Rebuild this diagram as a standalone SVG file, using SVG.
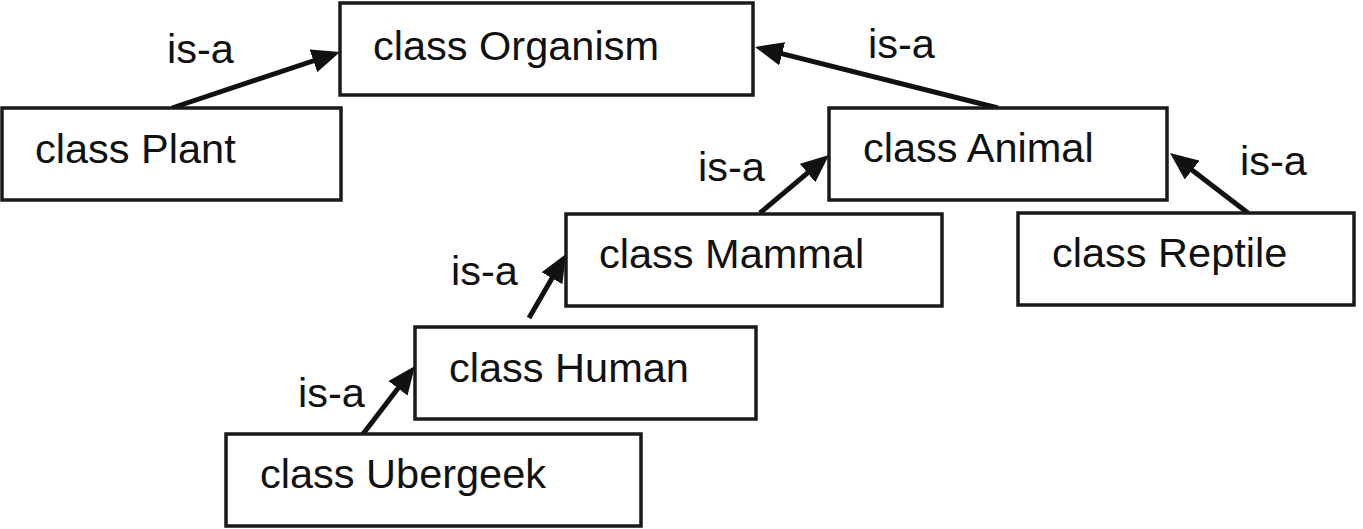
<svg xmlns="http://www.w3.org/2000/svg" width="1363" height="529" viewBox="0 0 1363 529">
<style>
.box{fill:#fff;stroke:#1a1a1a;stroke-width:3.5}
.t{font-family:"Liberation Sans",Arial,sans-serif;font-size:41.5px;fill:#111}
.c{stroke:#111;stroke-width:5;fill:none;marker-end:url(#ah)}
</style>
<defs>
<marker id="ah" markerUnits="userSpaceOnUse" markerWidth="28" markerHeight="24" viewBox="0 0 28 24" refX="20" refY="12" orient="auto">
<path d="M0,0 L28,12 L0,24 z" fill="#111"/>
</marker>
</defs>
<rect width="1363" height="529" fill="#fff"/>
<g id="connectors">
<line class="c" x1="172" y1="108" x2="332.4" y2="54.5"/>
<line class="c" x1="998" y1="108" x2="762.8" y2="48.9"/>
<line class="c" x1="760" y1="213" x2="822.9" y2="160.2"/>
<line class="c" x1="1248" y1="213" x2="1176.3" y2="157.9"/>
<line class="c" x1="529" y1="318" x2="562" y2="260.9"/>
<line class="c" x1="363" y1="434" x2="410.1" y2="372.4"/>
<text class="t" x="167" y="63">is-a</text>
<text class="t" x="868" y="58">is-a</text>
<text class="t" x="698" y="181">is-a</text>
<text class="t" x="1240" y="175">is-a</text>
<text class="t" x="451" y="285">is-a</text>
<text class="t" x="298" y="407">is-a</text>
</g>
<g id="organism"><rect class="box" x="340" y="3" width="413" height="92"/><text class="t" x="373" y="60">class Organism</text></g>
<g id="plant"><rect class="box" x="2" y="108" width="339" height="92"/><text class="t" x="35" y="163">class Plant</text></g>
<g id="animal"><rect class="box" x="829" y="108" width="338" height="92"/><text class="t" x="863" y="162">class Animal</text></g>
<g id="reptile"><rect class="box" x="1018" y="213" width="336" height="92"/><text class="t" x="1052" y="267">class Reptile</text></g>
<g id="mammal"><rect class="box" x="566" y="214" width="376" height="92"/><text class="t" x="599" y="268">class Mammal</text></g>
<g id="human"><rect class="box" x="415" y="327" width="341" height="92"/><text class="t" x="449" y="382">class Human</text></g>
<g id="ubergeek"><rect class="box" x="226" y="434" width="415" height="92"/><text class="t" x="260" y="488">class Ubergeek</text></g>
</svg>
